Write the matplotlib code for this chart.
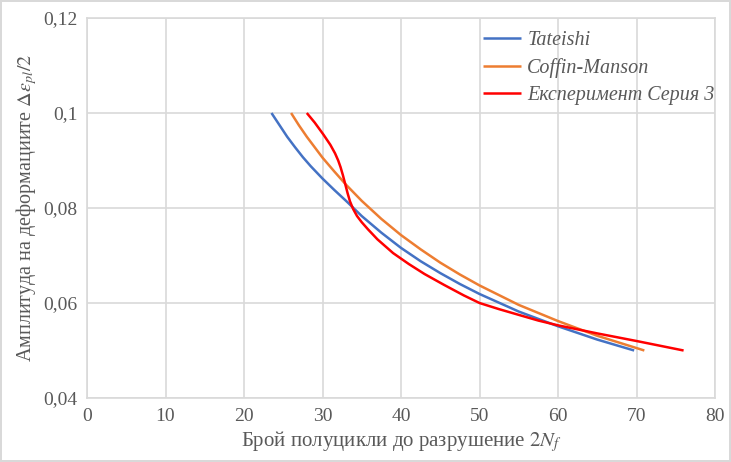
import matplotlib
matplotlib.use("Agg")
import matplotlib.pyplot as plt
from matplotlib.ticker import FuncFormatter, MultipleLocator

# Data
tateishi_x = [23.5, 24.5, 25.5, 26.5, 27.5, 28.5, 30, 31.5, 33, 35, 37.5, 40, 42.5, 45, 47.5, 50, 55, 60, 65, 69.7]
tateishi_y = [0.100, 0.0975, 0.0950, 0.0928, 0.0907, 0.0888, 0.0862, 0.0838, 0.0815, 0.0783, 0.0748, 0.0716,
              0.0688, 0.0663, 0.0640, 0.0619, 0.0582, 0.0551, 0.0523, 0.0500]

coffin_x = [26, 27, 28, 29, 30, 31.5, 33, 35, 37.5, 40, 42.5, 45, 47.5, 50, 55, 60, 65, 71]
coffin_y = [0.100, 0.0974, 0.0950, 0.0928, 0.0906, 0.0877, 0.0849, 0.0815, 0.0777, 0.0743, 0.0713, 0.0685,
            0.0660, 0.0637, 0.0596, 0.0562, 0.0531, 0.0500]

exp_x = [28.0, 29.0, 30.1, 31.0, 31.6, 32.0, 32.3, 32.6, 32.9, 33.2, 33.5, 33.9, 34.4, 35.0, 35.8, 37.0, 39.0,
         41.0, 43.0, 45.5, 48.0, 50.0, 52.5, 55.0, 57.5, 60.0, 65.0, 70.0, 76.0]
exp_y = [0.100, 0.0980, 0.0955, 0.0933, 0.0915, 0.0900, 0.0886, 0.0869, 0.0850, 0.0831, 0.0814, 0.0798, 0.0783,
         0.0770, 0.0755, 0.0734, 0.0705, 0.0682, 0.0661, 0.0638, 0.0616, 0.0600, 0.0587, 0.0575, 0.0563, 0.0553,
         0.0536, 0.0520, 0.0500]

labels = ["Tateishi", "Coffin-Manson", "Експеримент Серия 3"]
colors = ["#4472C4", "#ED7D31", "#FF0000"]

plt.rcParams['font.family'] = ['Liberation Serif', 'DejaVu Serif']
plt.rcParams['mathtext.fontset'] = 'stix'

fig = plt.figure(figsize=(7.31, 4.62), dpi=100)
fig.patch.set_edgecolor('#d9d9d9')
fig.patch.set_linewidth(1.5)
ax = fig.add_axes([87/731, 1-398/462, (715-87)/731, (398-18)/462])

for xs, ys, c, lab in zip([tateishi_x, coffin_x, exp_x], [tateishi_y, coffin_y, exp_y], colors, labels):
    ax.plot(xs, ys, color=c, lw=1.8, label=lab, solid_capstyle='butt', solid_joinstyle='round')

ax.set_xlim(0, 80)
ax.set_ylim(0.04, 0.12)
ax.xaxis.set_major_locator(MultipleLocator(10))
ax.yaxis.set_major_locator(MultipleLocator(0.02))
ax.yaxis.set_major_formatter(FuncFormatter(lambda v, p: ("%g" % round(v, 4)).replace('.', ',')))
ax.grid(True, color='#d9d9d9', lw=1.2)
ax.set_axisbelow(True)
for s in ax.spines.values():
    s.set_color('#d9d9d9')
    s.set_linewidth(1.2)
ax.tick_params(length=0, labelsize=14, colors='#595959', pad=7)

ax.set_xlabel(r"Брой полуцикли до разрушение $2N_f$", fontsize=15, color='#595959', labelpad=3)
ax.set_ylabel(r"Амплитуда на деформациите $\mathit{\Delta}\varepsilon_{pl}/2$", fontsize=14.5, color='#595959', labelpad=3)

leg = ax.legend(loc='upper left', bbox_to_anchor=(475/731, 1-23/462), bbox_transform=fig.transFigure,
                frameon=False, fontsize=14.5, handlelength=1.9, labelspacing=0.4, handletextpad=0.3,
                borderaxespad=0)
for t in leg.get_texts():
    t.set_color('#595959')
    t.set_fontstyle('italic')

fig.savefig("out.png", dpi=100)
